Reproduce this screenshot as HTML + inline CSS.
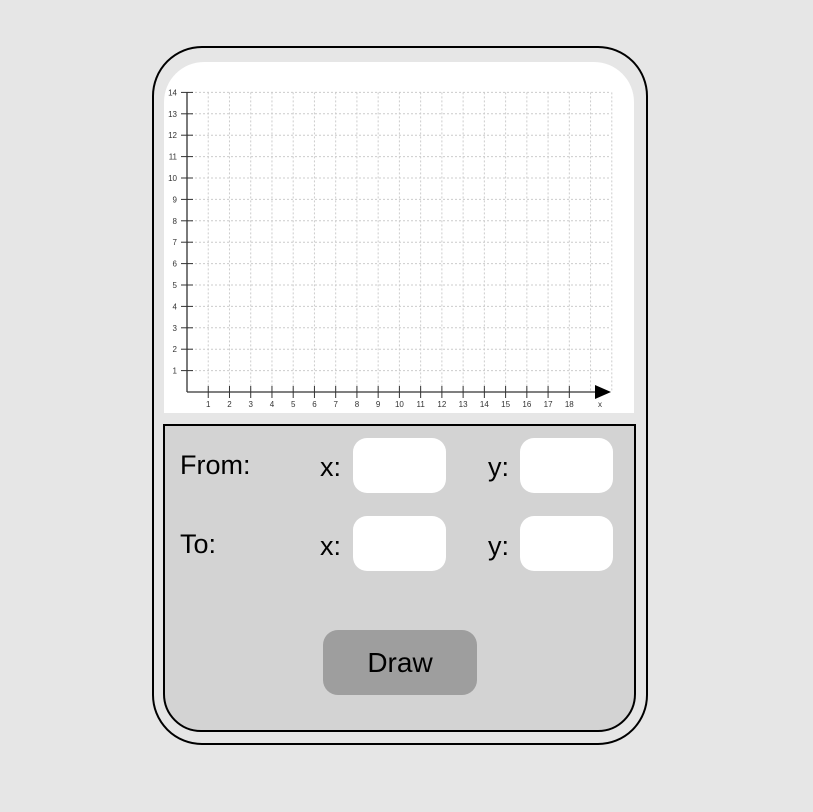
<!DOCTYPE html>
<html><head><meta charset="utf-8"><style>
html,body{margin:0;padding:0;background:#e6e6e6;width:813px;height:812px;overflow:hidden;font-family:"Liberation Sans",sans-serif}
.abs{position:absolute}
#outer{left:152px;top:46px;width:492px;height:695px;border:2px solid #000;border-radius:50px;box-sizing:content-box}
#chartbg{left:164px;top:62px;width:470px;height:351px;background:#fff;border-radius:40px 40px 0 0}
#ctrl{left:163px;top:424px;width:471px;height:305px;background:#d3d3d3;border:2px solid #000;border-radius:0 0 38px 38px;box-sizing:border-box;height:308px;width:473px}
.lbl{font-size:27px;color:#000}
.inp{width:93px;height:55px;background:#fff;border-radius:14px;border:none;padding:0;margin:0;box-sizing:border-box}
#draw{left:323px;top:630px;width:154px;height:65px;background:#9e9e9e;border-radius:15px;font-size:28px;text-align:center;line-height:65px}
</style></head><body>
<div class="abs" id="outer"></div>
<div class="abs" id="chartbg"></div>
<svg class="abs" style="left:0;top:0" width="813" height="812">
<g id="g"></g>
</svg>
<div class="abs" id="ctrl"></div>
<div class="abs lbl" style="left:180px;top:450px">From:</div>
<div class="abs lbl" style="left:180px;top:529px">To:</div>
<div class="abs lbl" style="left:320px;top:452px">x:</div>
<div class="abs lbl" style="left:488px;top:452px">y:</div>
<div class="abs lbl" style="left:320px;top:531px">x:</div>
<div class="abs lbl" style="left:488px;top:531px">y:</div>
<input class="abs inp" style="left:353px;top:438px">
<input class="abs inp" style="left:520px;top:438px">
<input class="abs inp" style="left:353px;top:516px">
<input class="abs inp" style="left:520px;top:516px">
<div class="abs" id="draw">Draw</div>
<script>
const xTicks=[1,2,3,4,5,6,7,8,9,10,11,12,13,14,15,16,17,18];
const yTicks=[1,2,3,4,5,6,7,8,9,10,11,12,13,14];
const xGridMax=20, yGridMax=14;
const ox=187, oy=392, sx=21.24, sy=21.4;
const X=v=>ox+v*sx, Y=v=>oy-v*sy;
const g=document.getElementById('g');
const NS='http://www.w3.org/2000/svg';
function mk(t,a){const e=document.createElementNS(NS,t);for(const k in a)e.setAttribute(k,a[k]);g.appendChild(e);return e;}
const right=611;
for(let i=1;i<=xGridMax;i++){
  const l=mk('line',{x1:X(i),x2:X(i),y1:Y(yGridMax),y2:oy,stroke:'#ccc','stroke-dasharray':'2,2'});
  
  
}
for(const v of yTicks){
  const l=mk('line',{x1:ox,x2:right,y1:Y(v),y2:Y(v),stroke:'#ccc','stroke-dasharray':'2,2'});
  
  
  const t=mk('line',{x1:ox-6,x2:ox+6,y1:Y(v),y2:Y(v),stroke:'#333'});
  
  
  const tx=mk('text',{x:ox-10,y:Y(v)+3,'font-size':'8','text-anchor':'end','fill':'#333','font-family':'Liberation Sans'});
  tx.textContent=v;
  
  
}
for(const v of xTicks){
  const t=mk('line',{x1:X(v),x2:X(v),y1:oy-6,y2:oy+6,stroke:'#333'});
  
  
  const tx=mk('text',{x:X(v),y:oy+15,'font-size':'8','text-anchor':'middle','fill':'#333','font-family':'Liberation Sans'});
  tx.textContent=v;
  
  
}
const ya=mk('line',{x1:ox,x2:ox,y1:Y(yGridMax),y2:oy,stroke:'#333','stroke-width':1.3});


const xa=mk('line',{x1:ox,x2:598,y1:oy,y2:oy,stroke:'#333','stroke-width':1.3});


const ar=mk('polygon',{points:`595,${oy-7} 611,${oy} 595,${oy+7}`,fill:'#000'});


const xl=mk('text',{x:600,y:oy+15,'font-size':'8','text-anchor':'middle','fill':'#333','font-family':'Liberation Sans'});
xl.textContent='x';


</script>
</body></html>
